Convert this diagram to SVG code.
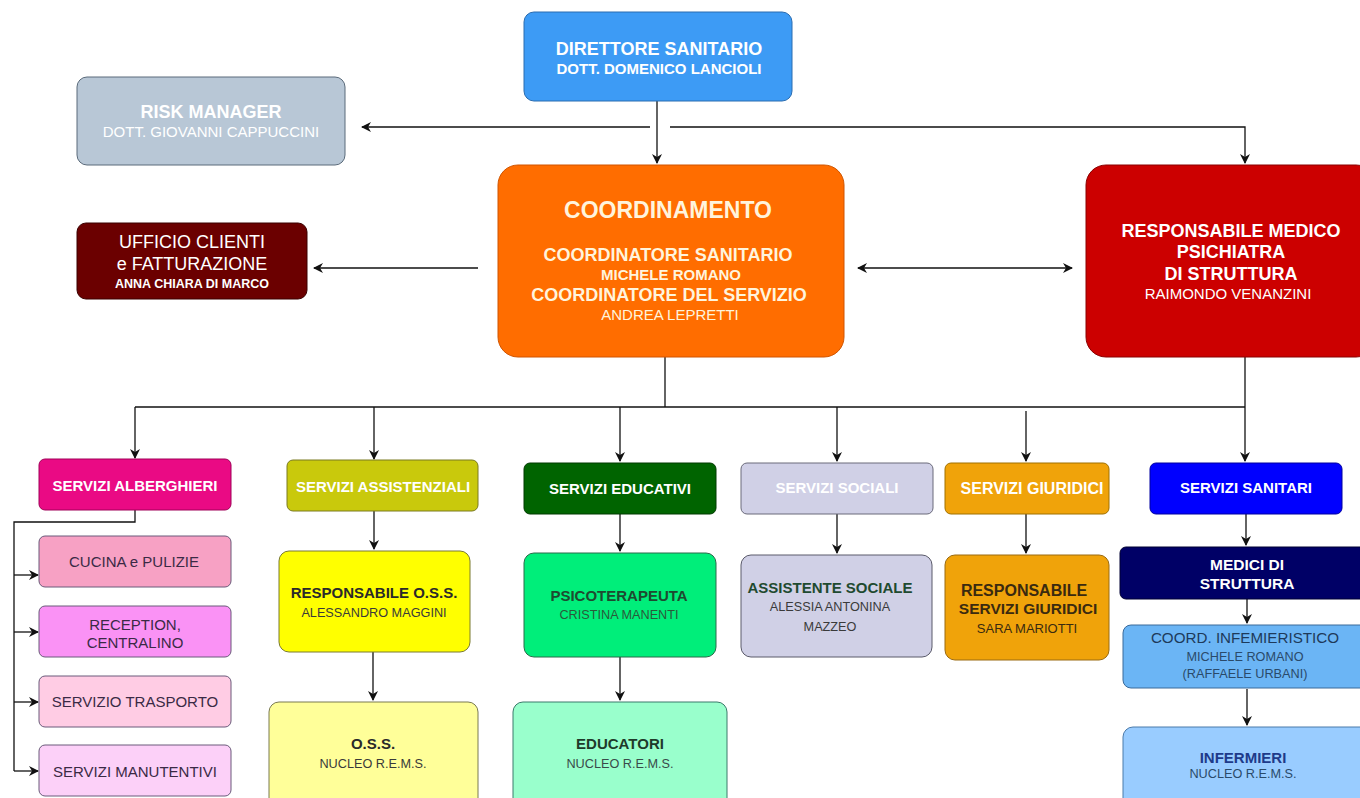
<svg xmlns="http://www.w3.org/2000/svg" width="1360" height="798" viewBox="0 0 1360 798">
<defs>
<marker id="ar" viewBox="0 0 10 10" refX="9" refY="5" markerWidth="10" markerHeight="10" markerUnits="userSpaceOnUse" orient="auto-start-reverse">
<path d="M0,0 L10,5 L0,10 L3,5 Z" fill="#111"/>
</marker>
<style>
text{font-family:"Liberation Sans",Arial,sans-serif;text-anchor:middle}
.b{font-weight:bold}
.w{fill:#ffffff}
.c{stroke:#111;stroke-width:1.3;fill:none}
.a{marker-end:url(#ar)}
rect{stroke-width:1}
</style>
</defs>
<rect width="1360" height="798" fill="#ffffff"/>

<g id="connectors">
<path class="c a" d="M657,101 V163"/>
<path class="c a" d="M650,127 H362"/>
<path class="c a" d="M670,127 H1245 V163"/>
<path class="c a" d="M478,268 H314"/>
<path class="c a" d="M858,268 H1072" style="marker-start:url(#ar)"/>
<path class="c" d="M665,357 V407"/>
<path class="c" d="M135,407 H1245"/>
<path class="c a" d="M1245,357 V461"/>
<path class="c a" d="M135,407 V458"/>
<path class="c a" d="M374,407 V459"/>
<path class="c a" d="M620,407 V461"/>
<path class="c a" d="M837,407 V461"/>
<path class="c a" d="M1026,411 V461"/>
<path class="c" d="M135,510 V522 H14 V771"/>
<path class="c a" d="M14,575 H38"/>
<path class="c a" d="M14,632 H38"/>
<path class="c a" d="M14,702 H38"/>
<path class="c a" d="M14,771 H38"/>
<path class="c a" d="M374,511 V549"/>
<path class="c a" d="M373,652 V700"/>
<path class="c a" d="M620,514 V551"/>
<path class="c a" d="M620,657 V700"/>
<path class="c a" d="M837,514 V553"/>
<path class="c a" d="M1026,514 V553"/>
<path class="c a" d="M1246,514 V545"/>
<path class="c a" d="M1247,599 V623"/>
<path class="c a" d="M1247,689 V725"/>
</g>

<g id="direttore">
<rect x="524" y="12" width="268" height="89" rx="10" fill="#3d9bf5" stroke="#2a6cb0"/>
<text x="659" y="55" class="b w" font-size="18">DIRETTORE SANITARIO</text>
<text x="659" y="74" class="b w" font-size="15">DOTT. DOMENICO LANCIOLI</text>
</g>

<g id="risk">
<rect x="77" y="77" width="268" height="88" rx="10" fill="#b8c7d6" stroke="#5a6a7a"/>
<text x="211" y="118" class="b w" font-size="18">RISK MANAGER</text>
<text x="211" y="137" class="w" font-size="15">DOTT. GIOVANNI CAPPUCCINI</text>
</g>

<g id="coordinamento">
<rect x="498" y="165" width="346" height="192" rx="20" fill="#ff6d00" stroke="#d05500"/>
<text x="668" y="218" class="b" font-size="23" fill="#fff4dc">COORDINAMENTO</text>
<text x="668" y="261" class="b" font-size="18" fill="#fff4dc">COORDINATORE SANITARIO</text>
<text x="671" y="280" class="b" font-size="15" fill="#fff4dc">MICHELE ROMANO</text>
<text x="669" y="301" class="b" font-size="18" fill="#fff4dc">COORDINATORE DEL SERVIZIO</text>
<text x="670" y="320" font-size="15" fill="#fff4dc">ANDREA LEPRETTI</text>
</g>

<g id="ufficio">
<rect x="77" y="223" width="230" height="76" rx="9" fill="#6b0000" stroke="#3a0000"/>
<text x="192" y="248" class="w" font-size="18">UFFICIO CLIENTI</text>
<text x="192" y="270" class="w" font-size="18">e FATTURAZIONE</text>
<text x="192" y="288" class="b w" font-size="12.5">ANNA CHIARA DI MARCO</text>
</g>

<g id="responsabile-medico">
<rect x="1086" y="165" width="290" height="192" rx="20" fill="#cc0000" stroke="#8a0000"/>
<text x="1231" y="237" class="b w" font-size="18">RESPONSABILE MEDICO</text>
<text x="1231" y="258" class="b w" font-size="18">PSICHIATRA</text>
<text x="1231" y="280" class="b w" font-size="18">DI STRUTTURA</text>
<text x="1228" y="299" class="w" font-size="15">RAIMONDO VENANZINI</text>
</g>

<g id="servizi-alberghieri">
<rect x="39" y="459" width="192" height="51" rx="6" fill="#ea0a84" stroke="#a00058"/>
<text x="135" y="491" class="b w" font-size="15">SERVIZI ALBERGHIERI</text>
</g>
<g id="cucina">
<rect x="39" y="536" width="192" height="51" rx="6" fill="#f7a1c4" stroke="#6a5a7a"/>
<text x="134" y="567" font-size="15" fill="#3a2a45">CUCINA e PULIZIE</text>
</g>
<g id="reception">
<rect x="39" y="606" width="192" height="51" rx="6" fill="#fa92f5" stroke="#6a5a7a"/>
<text x="135" y="630" font-size="15" fill="#3a2a45">RECEPTION,</text>
<text x="135" y="648" font-size="15" fill="#3a2a45">CENTRALINO</text>
</g>
<g id="trasporto">
<rect x="39" y="676" width="192" height="51" rx="6" fill="#ffcce4" stroke="#6a5a7a"/>
<text x="135" y="707" font-size="15" fill="#3a2a45">SERVIZIO TRASPORTO</text>
</g>
<g id="manutentivi">
<rect x="39" y="745" width="192" height="51" rx="6" fill="#fcd0f8" stroke="#6a5a7a"/>
<text x="135" y="777" font-size="15" fill="#3a2a45">SERVIZI MANUTENTIVI</text>
</g>

<g id="servizi-assistenziali">
<rect x="287" y="460" width="191" height="51" rx="6" fill="#c9c90c" stroke="#7a7a20"/>
<text x="383" y="492" class="b w" font-size="15">SERVIZI ASSISTENZIALI</text>
</g>
<g id="responsabile-oss">
<rect x="279" y="551" width="191" height="101" rx="10" fill="#ffff00" stroke="#7a7a30"/>
<text x="374" y="598" class="b" font-size="15" fill="#2a2a2a">RESPONSABILE O.S.S.</text>
<text x="374" y="617" font-size="12.7" fill="#3a3a3a">ALESSANDRO MAGGINI</text>
</g>
<g id="oss">
<rect x="269" y="702" width="209" height="110" rx="10" fill="#ffff99" stroke="#7a7a50"/>
<text x="373" y="749" class="b" font-size="15" fill="#2a2a2a">O.S.S.</text>
<text x="373" y="768" font-size="12.7" fill="#3a3a3a">NUCLEO R.E.M.S.</text>
</g>

<g id="servizi-educativi">
<rect x="524" y="463" width="192" height="51" rx="6" fill="#006400" stroke="#003a00"/>
<text x="620" y="494" class="b w" font-size="15">SERVIZI EDUCATIVI</text>
</g>
<g id="psicoterapeuta">
<rect x="524" y="553" width="192" height="104" rx="10" fill="#00ee7a" stroke="#2a6a4a"/>
<text x="619" y="601" class="b" font-size="15" fill="#1e4a30">PSICOTERAPEUTA</text>
<text x="619" y="619" font-size="12.7" fill="#2a5a3a">CRISTINA MANENTI</text>
</g>
<g id="educatori">
<rect x="513" y="702" width="214" height="110" rx="10" fill="#99ffcc" stroke="#3a7a6a"/>
<text x="620" y="749" class="b" font-size="15" fill="#1e3a2a">EDUCATORI</text>
<text x="620" y="768" font-size="12.7" fill="#3a4a4a">NUCLEO R.E.M.S.</text>
</g>

<g id="servizi-sociali">
<rect x="741" y="463" width="192" height="51" rx="6" fill="#d0d0e6" stroke="#6a6a7a"/>
<text x="837" y="493" class="b w" font-size="15">SERVIZI SOCIALI</text>
</g>
<g id="assistente-sociale">
<rect x="741" y="555" width="191" height="102" rx="10" fill="#d0d0e6" stroke="#5a5a6a"/>
<text x="830" y="593" class="b" font-size="15" fill="#1f4a30">ASSISTENTE SOCIALE</text>
<text x="830" y="611" font-size="12.7" fill="#3a3a3a">ALESSIA ANTONINA</text>
<text x="830" y="631" font-size="12.7" fill="#3a3a3a">MAZZEO</text>
</g>

<g id="servizi-giuridici">
<rect x="945" y="463" width="164" height="51" rx="6" fill="#f0a30a" stroke="#a07000"/>
<text x="1032" y="494" class="b w" font-size="16">SERVIZI GIURIDICI</text>
</g>
<g id="responsabile-giuridici">
<rect x="945" y="555" width="164" height="105" rx="10" fill="#f0a30a" stroke="#9a6a10"/>
<text x="1024" y="596" class="b" font-size="16" fill="#3a2a10">RESPONSABILE</text>
<text x="1028" y="614" class="b" font-size="15.5" fill="#3a2a10">SERVIZI GIURIDICI</text>
<text x="1027" y="633" font-size="13" fill="#3a2a10">SARA MARIOTTI</text>
</g>

<g id="servizi-sanitari">
<rect x="1150" y="463" width="192" height="51" rx="6" fill="#0000ff" stroke="#0000a0"/>
<text x="1246" y="493" class="b w" font-size="15">SERVIZI SANITARI</text>
</g>
<g id="medici">
<rect x="1120" y="547" width="250" height="52" rx="6" fill="#000066" stroke="#000033"/>
<text x="1247" y="570" class="b w" font-size="15.5">MEDICI DI</text>
<text x="1247" y="589" class="b w" font-size="15.5">STRUTTURA</text>
</g>
<g id="coord-infermieristico">
<rect x="1123" y="625" width="247" height="63" rx="8" fill="#6bb5f5" stroke="#3a6a9a"/>
<text x="1245" y="643" font-size="15.2" fill="#1e3a5a">COORD. INFEMIERISTICO</text>
<text x="1245" y="661" font-size="12.7" fill="#2a4a6a">MICHELE ROMANO</text>
<text x="1245" y="678" font-size="12.7" fill="#2a4a6a">(RAFFAELE URBANI)</text>
</g>
<g id="infermieri">
<rect x="1123" y="727" width="247" height="85" rx="10" fill="#99ccff" stroke="#4a7aaa"/>
<text x="1243" y="763" class="b" font-size="15" fill="#1e3a8a">INFERMIERI</text>
<text x="1243" y="778" font-size="12.7" fill="#2a4a6a">NUCLEO R.E.M.S.</text>
</g>
</svg>
